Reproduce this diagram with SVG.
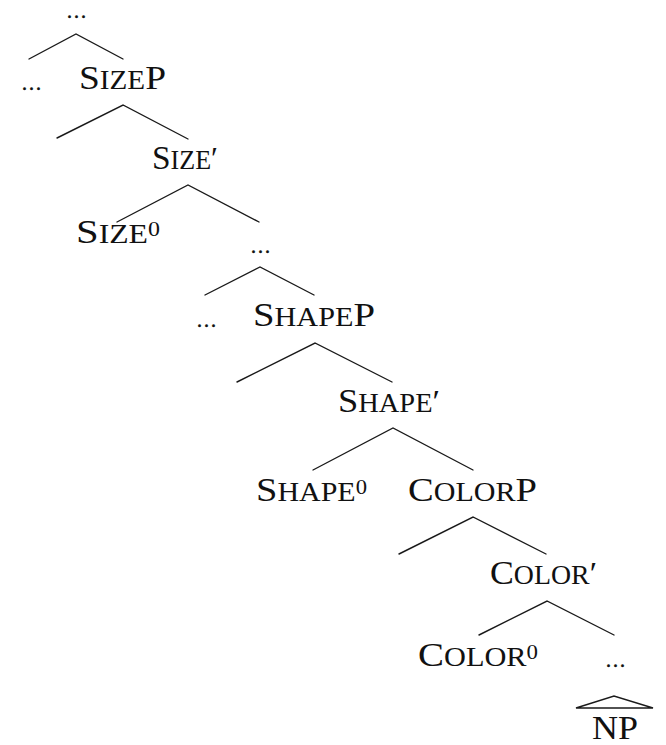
<svg xmlns="http://www.w3.org/2000/svg" width="666" height="745" viewBox="0 0 666 745">
<style>
.t{font-family:"Liberation Serif","DejaVu Serif",serif;font-size:34px;fill:#111}
.sc{font-size:26.5px}
.sup{font-size:20px}
.pr{font-size:32px}
.d{font-family:"Liberation Serif","DejaVu Serif",serif;font-size:20px;letter-spacing:2px;fill:#111;stroke:#111;stroke-width:0.6}
.e{stroke:#1a1a1a;stroke-width:1.4;fill:none;stroke-linecap:round}
</style>
<rect width="666" height="745" fill="#fff"/>
<g id="connectors">
<path class="e" d="M29,59 L76,34 L123,59"/>
<path class="e" d="M57,138 L123,105 L188,139"/>
<path class="e" d="M117,222 L188,185 L259,222"/>
<path class="e" d="M205,295 L260,267 L314,295"/>
<path class="e" d="M237,382 L315,343 L392,382"/>
<path class="e" d="M313,470 L393,428 L473,470"/>
<path class="e" d="M399,554 L473,517 L546,554"/>
<path class="e" d="M479,635 L547,601 L614,635"/>
<path class="e" d="M576,708 L614,696 L653,708 Z"/>
</g>
<g id="n-top"><text class="d" x="67" y="18">...</text></g>
<g id="n-dots1"><text class="d" x="22" y="90">...</text></g>
<g id="n-sizep"><text class="t" x="79" y="89" textLength="87" lengthAdjust="spacingAndGlyphs">S<tspan class="sc">IZE</tspan>P</text></g>
<g id="n-sizebar"><text class="t" x="152" y="169" textLength="66" lengthAdjust="spacingAndGlyphs">S<tspan class="sc">IZE</tspan><tspan class="pr">′</tspan></text></g>
<g id="n-size0"><text class="t" x="76" y="243" textLength="84" lengthAdjust="spacingAndGlyphs">S<tspan class="sc">IZE</tspan><tspan class="sup" dy="-7">0</tspan></text></g>
<g id="n-dots2"><text class="d" x="251" y="253">...</text></g>
<g id="n-dots3"><text class="d" x="197" y="327">...</text></g>
<g id="n-shapep"><text class="t" x="253" y="326" textLength="122" lengthAdjust="spacingAndGlyphs">S<tspan class="sc">HAPE</tspan>P</text></g>
<g id="n-shapebar"><text class="t" x="338" y="412" textLength="102" lengthAdjust="spacingAndGlyphs">S<tspan class="sc">HAPE</tspan><tspan class="pr">′</tspan></text></g>
<g id="n-shape0"><text class="t" x="256" y="501" textLength="111" lengthAdjust="spacingAndGlyphs">S<tspan class="sc">HAPE</tspan><tspan class="sup" dy="-7">0</tspan></text></g>
<g id="n-colorp"><text class="t" x="408" y="501" textLength="129" lengthAdjust="spacingAndGlyphs">C<tspan class="sc">OLOR</tspan>P</text></g>
<g id="n-colorbar"><text class="t" x="490" y="584" textLength="107" lengthAdjust="spacingAndGlyphs">C<tspan class="sc">OLOR</tspan><tspan class="pr">′</tspan></text></g>
<g id="n-color0"><text class="t" x="418" y="666" textLength="120" lengthAdjust="spacingAndGlyphs">C<tspan class="sc">OLOR</tspan><tspan class="sup" dy="-7">0</tspan></text></g>
<g id="n-dots4"><text class="d" x="606" y="667">...</text></g>
<g id="n-np"><text class="t" x="592" y="739" textLength="46" lengthAdjust="spacingAndGlyphs">NP</text></g>
</svg>
